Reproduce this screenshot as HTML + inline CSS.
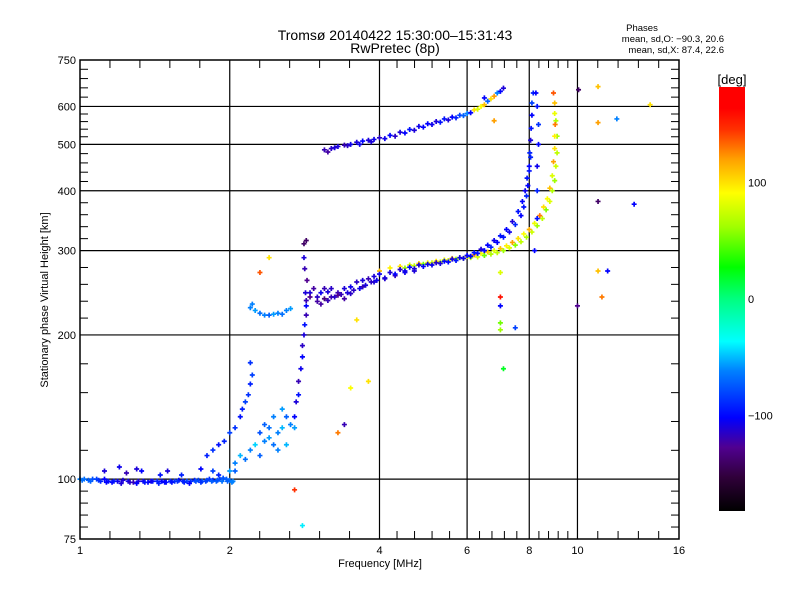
<!DOCTYPE html>
<html><head><meta charset="utf-8"><style>
body{margin:0;background:#fff;}
svg{display:block;font-family:"Liberation Sans",sans-serif;}
</style></head><body>
<svg id="chart" width="800" height="600" viewBox="0 0 800 600" xmlns="http://www.w3.org/2000/svg">
<defs>
<linearGradient id="cbar" x1="0" y1="1" x2="0" y2="0">
<stop offset="0" stop-color="#000000"/>
<stop offset="0.08" stop-color="#30003a"/>
<stop offset="0.15" stop-color="#500090"/>
<stop offset="0.22" stop-color="#0000ff"/>
<stop offset="0.33" stop-color="#0080ff"/>
<stop offset="0.40" stop-color="#00ffff"/>
<stop offset="0.50" stop-color="#00ff80"/>
<stop offset="0.575" stop-color="#00ff00"/>
<stop offset="0.67" stop-color="#a0ff00"/>
<stop offset="0.75" stop-color="#ffff00"/>
<stop offset="0.83" stop-color="#ffa000"/>
<stop offset="0.90" stop-color="#ff3000"/>
<stop offset="0.95" stop-color="#ff0000"/>
<stop offset="1" stop-color="#ff0000"/>
</linearGradient>
</defs>
<g id="grid"></g>
<g id="marks"></g>
<g id="axes"></g>
<text x="395" y="40" font-size="14" text-anchor="middle">Tromsø 20140422 15:30:00–15:31:43</text>
<text x="395" y="53" font-size="14" text-anchor="middle">RwPretec (8p)</text>
<text x="642" y="31" font-size="9.5" text-anchor="middle">Phases</text>
<text x="724" y="42" font-size="9.5" text-anchor="end">mean, sd,O: −90.3, 20.6</text>
<text x="724" y="53" font-size="9.5" text-anchor="end">mean, sd,X:  87.4, 22.6</text>
<text x="380" y="567" font-size="11" text-anchor="middle">Frequency [MHz]</text>
<text x="0" y="0" font-size="11" text-anchor="middle" transform="translate(48,300) rotate(-90)">Stationary phase Virtual Height [km]</text>
<rect x="719" y="87" width="26" height="424" fill="url(#cbar)"/>
<text x="732" y="84" font-size="13" text-anchor="middle">[deg]</text>
<g id="cbticks"></g>
</svg>
<script>
// ---- data ----
const eFreq=[1.00,1.02,1.04,1.06,1.08,1.10,1.12,1.14,1.16,1.19,1.22,1.25,1.28,1.31,1.34,1.37,1.40,1.43,1.46,1.49,1.52,1.55,1.58,1.61,1.64,1.67,1.70,1.73,1.76,1.79,1.82,1.85,1.88,1.91,1.94,1.97,2.00,2.03,1.12,1.2,1.24,1.3,1.33,1.45,1.5,1.6,1.75,1.85,1.9,2.05];
const eHeight=[100,100,99.5,100,100,99,100,99,98.5,99,99.5,99,98.5,99,99,98.5,99,99,99,98.5,99,99,99.5,99,99,99,99.5,99.5,99,99,100,99.5,99,100,100.5,100,99.5,99,104,106,103,105,104,102,104,102,105,104,102,104];
const ePhase=[-60,-65,-70,-75,-80,-90,-100,-95,-100,-105,-110,-105,-120,-110,-105,-100,-95,-90,-100,-95,-90,-85,-100,-90,-80,-85,-90,-80,-75,-80,-85,-90,-70,-80,-75,-70,-65,-60,-110,-105,-120,-110,-100,-95,-110,-90,-100,-80,-90,-70];
const e2Freq=[1.01,1.05,1.09,1.13,1.17,1.21,1.26,1.3,1.35,1.39,1.44,1.48,1.53,1.57,1.62,1.66,1.71,1.75,1.8,1.84,1.89,1.93,1.98,2.02];
const e2Height=[99.5,99,99.5,98.5,99,98,98.5,98,98.5,99,98,98.5,98.5,99,98.5,98,99,98.5,99.5,99,99.5,99,99,98.5];
const e2Phase=[-65,-70,-85,-100,-95,-110,-115,-100,-95,-105,-90,-100,-95,-85,-90,-100,-75,-85,-80,-70,-75,-65,-70,-60];

const lowFreq=[2.0,2.05,2.1,2.15,2.2,2.25,2.3,2.35,2.4,2.45,2.5,2.55,2.6,2.65,2.7,2.5,2.6,2.4,2.35,2.55,2.45,2.3,1.8,1.85,1.9,1.95,2.0,2.05,2.1,2.12,2.15,2.18,2.2,2.22,2.2,2.7,2.72,2.75,2.75,2.78,2.8,2.8,2.82,2.83,2.85,2.85,2.84,2.86,2.83,2.82,2.82,2.2,2.25,2.3,2.35,2.4,2.45,2.5,2.55,2.6,2.65,2.22];
const lowHeight=[104,108,112,110,115,118,112,120,122,118,125,128,135,130,128,115,118,128,130,140,135,125,112,115,118,120,125,128,135,140,145,150,158,165,175,135,145,150,160,170,180,190,200,210,220,230,245,260,275,290,310,228,225,222,220,220,221,222,221,225,227,232];
const lowPhase=[-55,-60,-50,-65,-60,-45,-70,-60,-55,-65,-60,-50,-70,-60,-55,-60,-50,-65,-70,-55,-60,-75,-90,-85,-95,-90,-80,-85,-95,-90,-80,-85,-90,-80,-85,-100,-110,-95,-120,-105,-100,-115,-110,-95,-120,-100,-110,-130,-120,-110,-140,-60,-55,-65,-60,-70,-55,-60,-65,-60,-55,-60];

const oFreq=[2.85,2.9,2.95,3.0,3.05,3.1,3.15,3.2,3.3,3.4,3.5,3.6,3.7,3.8,3.9,4.0,4.2,4.4,4.6,4.8,5.0,5.2,5.4,5.6,5.8,6.0,6.2,6.4,6.6,6.8,7.0,7.2,7.4,7.6,7.75,7.85,7.92,8.0,8.02,8.05,8.07,8.1,8.1,8.15,8.2,8.3,8.3,8.3,8.35,8.35,8.3,8.25,2.9,3.0,3.1,3.2,3.3,3.4,3.5,3.7,3.9,4.1,4.3,4.5,4.7];
const oHeight=[236,245,250,240,245,250,246,250,245,250,252,258,260,262,265,268,270,274,277,280,281,283,285,288,290,293,297,302,308,315,322,332,345,362,380,400,425,450,480,510,540,575,610,640,300,350,400,450,500,550,600,640,240,235,238,240,242,238,244,252,258,262,266,270,272];
const oPhase=[-120,-110,-125,-115,-105,-120,-110,-115,-120,-110,-105,-115,-110,-120,-110,-105,-110,-115,-100,-110,-105,-115,-100,-110,-105,-100,-95,-110,-100,-105,-95,-100,-110,-95,-100,-105,-95,-100,-90,-110,-95,-100,-80,-90,-100,-95,-90,-105,-100,-85,-95,-100,-130,-125,-135,-120,-130,-125,-115,-120,-110,-115,-120,-105,-110];
const o2Freq=[3.05,3.15,3.25,3.35,3.45,3.55,3.65,3.75,3.85,3.95,4.1,4.3,4.5,4.7,4.9,5.1,5.3,5.5,5.7,5.9,6.1,6.3,6.5,6.7,6.9,7.1,7.3,7.5,7.7,7.8,7.9,7.95,8.0,8.05];
const o2Height=[232,236,240,243,245,248,250,254,258,260,263,268,272,275,278,280,282,284,286,289,292,296,300,305,312,320,328,340,355,370,390,410,440,470];
const o2Phase=[-125,-120,-115,-120,-110,-115,-105,-110,-115,-105,-110,-100,-105,-110,-100,-105,-110,-100,-95,-105,-100,-95,-100,-90,-100,-95,-105,-90,-100,-95,-90,-100,-95,-90];

const xFreq=[4.0,4.2,4.4,4.6,4.8,5.0,5.2,5.4,5.6,5.8,6.0,6.2,6.4,6.6,6.8,7.0,7.2,7.4,7.6,7.8,8.0,8.2,8.4,8.55,8.7,8.8,8.9,8.95,9.0,9.0,9.02,9.0,9.0,8.95];
const xHeight=[272,276,278,280,282,283,285,287,289,290,292,294,296,298,300,303,307,312,318,325,332,342,355,370,385,405,430,460,490,520,550,580,610,640];
const xPhase=[110,95,100,80,105,90,100,85,110,95,100,120,90,105,80,110,95,120,100,90,115,85,130,100,90,110,80,120,100,95,130,85,110,140];
const x2Freq=[4.5,4.7,4.9,5.1,5.3,5.5,5.7,5.9,6.1,6.3,6.5,6.7,6.9,7.1,7.3,7.5,7.7,7.9,8.1,8.3,8.5,8.65,8.8,8.9,9.0,9.05,9.1,9.1,9.05];
const x2Height=[276,279,281,283,284,286,288,289,290,291,293,295,297,300,304,308,313,320,328,338,350,365,380,400,420,450,480,520,560];
const x2Phase=[60,70,50,75,65,80,55,70,60,75,50,65,70,60,80,55,70,65,75,60,70,55,80,65,60,75,70,60,65];

const f2Freq=[3.1,3.2,3.3,3.4,3.5,3.6,3.7,3.8,3.9,4.0,4.2,4.4,4.6,4.8,5.0,5.2,5.4,5.6,5.8,6.0,6.2,6.4,6.6,6.8,7.0,7.1];
const f2Height=[487,490,495,498,500,505,508,510,512,516,522,530,537,545,552,558,565,570,575,580,590,600,615,630,645,655];
const f2Phase=[-120,-115,-110,-120,-105,-110,-100,-110,-105,-115,-100,-110,-95,-105,-100,-110,-95,-100,-80,-60,100,90,-70,120,-100,-110];
const f2bFreq=[3.15,3.25,3.45,3.65,3.85,4.1,4.3,4.5,4.7,4.9,5.1,5.3,5.5,5.7,5.9,6.1,6.3,6.5,6.7,6.9];
const f2bHeight=[482,492,497,500,506,514,520,528,535,543,550,556,562,568,574,582,592,605,622,640];
const f2bPhase=[-125,-110,-115,-105,-110,-105,-115,-100,-110,-100,-105,-95,-110,-90,-70,-100,80,110,100,-60];

const sFreq=[10.05,11,11,12,14,13,11,11,11.5,11.2,10,7,7,7,7,7,7.5,7.1,3.6,3.5,3.8,3.4,3.3,2.7,2.8,2.3,2.4,2.85,6.8,6.5];
const sHeight=[650,660,555,565,605,375,380,272,272,240,230,270,240,230,212,205,207,170,215,155,160,130,125,95,80,270,290,315,560,625];
const sPhase=[-140,110,120,-60,100,-100,-140,110,-100,130,-130,80,160,-100,50,60,-80,20,100,90,100,-120,130,150,-40,140,100,-140,120,-100];

const xTickVals=[1,2,4,6,8,10,16];
const xTickLabels=["1","2","4","6","8","10","16"];
const yTickVals=[75,100,200,300,400,500,600,750];
const yTickLabels=["75","100","200","300","400","500","600","750"];
const cbVals=[100,0,-100];
const cbLabels=["100","0","−100"];

// ---- scales ----
const X0=80,X1=679,Y0=60,Y1=539;
function xs(f){return X0+(X1-X0)*Math.log(f)/Math.log(16);}
function ys(h){return Y1-(Y1-Y0)*Math.log10(h/75);}
function cbs(p){return 299-1.165*p;}
const NS='http://www.w3.org/2000/svg';
function mk(tag,attrs,parent){const e=document.createElementNS(NS,tag);for(const k in attrs)e.setAttribute(k,attrs[k]);parent.appendChild(e);return e;}
const stops=[[-180,[0,0,0]],[-150,[48,0,58]],[-130,[80,0,144]],[-100,[0,0,255]],[-60,[0,128,255]],[-37,[0,255,255]],[0,[0,255,128]],[27,[0,255,0]],[60,[160,255,0]],[91,[255,255,0]],[120,[255,160,0]],[150,[255,48,0]],[165,[255,0,0]],[180,[255,0,0]]];
function col(p){p=Math.max(-180,Math.min(180,p));for(let i=0;i<stops.length-1;i++){const a=stops[i],b=stops[i+1];if(p<=b[0]){const t=(p-a[0])/(b[0]-a[0]);const c=a[1].map((v,k)=>Math.round(v+(b[1][k]-v)*t));return 'rgb('+c.join(',')+')';}}return 'red';}

// ---- grid & axes ----
const grid=document.getElementById('grid'),axes=document.getElementById('axes');
const frame=mk('rect',{x:X0,y:Y0,width:X1-X0,height:Y1-Y0,fill:'none',stroke:'#000','stroke-width':1.5},axes);


xTickVals.forEach((v,i)=>{
  const x=xs(v);
  if(i>0&&i<xTickVals.length-1){const g=mk('line',{x1:x,x2:x,y1:Y0,y2:Y1,stroke:'#000','stroke-width':1.2},grid);
    
    }
  const t=mk('text',{x:x,y:Y1+15,'font-size':11,'text-anchor':'middle'},axes);t.textContent=xTickLabels[i];
  
  
  if(i<xTickVals.length-1){const x2=xs(xTickVals[i+1]);for(let k=1;k<5;k++){const xm=x+(x2-x)*k/5;
    mk('line',{x1:xm,x2:xm,y1:Y1,y2:Y1-8,stroke:'#000'},axes);mk('line',{x1:xm,x2:xm,y1:Y0,y2:Y0+8,stroke:'#000'},axes);}}
});
yTickVals.forEach((v,i)=>{
  const y=ys(v);
  if(i>0&&i<yTickVals.length-1){const g=mk('line',{x1:X0,x2:X1,y1:y,y2:y,stroke:'#000','stroke-width':1.2},grid);
    
    }
  const t=mk('text',{x:X0-4,y:y+4,'font-size':11,'text-anchor':'end'},axes);t.textContent=yTickLabels[i];
  
  
  if(i<yTickVals.length-1){const y2=ys(yTickVals[i+1]);for(let k=1;k<5;k++){const ym=y+(y2-y)*k/5;
    mk('line',{x1:X0,x2:X0+8,y1:ym,y2:ym,stroke:'#000'},axes);mk('line',{x1:X1,x2:X1-8,y1:ym,y2:ym,stroke:'#000'},axes);}}
});
const cbt=document.getElementById('cbticks');
cbVals.forEach((v,i)=>{const t=mk('text',{x:748,y:cbs(v)+4,'font-size':11},cbt);t.textContent=cbLabels[i];
  
  });

// ---- marks ----
const marks=document.getElementById('marks');
function plot(F,H,P,name){for(let i=0;i<F.length;i++){const x=xs(F[i]),y=ys(H[i]);
  const p=mk('path',{d:'M'+(x-2.5)+' '+y+'H'+(x+2.5)+'M'+x+' '+(y-2.5)+'V'+(y+2.5),stroke:col(P[i]),'stroke-width':1.7,fill:'none'},marks);
  
  }}
plot(eFreq,eHeight,ePhase,'e-layer-point');
plot(e2Freq,e2Height,e2Phase,'e-layer-point');
plot(lowFreq,lowHeight,lowPhase,'low-trace-point');
plot(x2Freq,x2Height,x2Phase,'x-trace-point');
plot(xFreq,xHeight,xPhase,'x-trace-point');
plot(oFreq,oHeight,oPhase,'o-trace-point');
plot(o2Freq,o2Height,o2Phase,'o-trace-point');
plot(f2Freq,f2Height,f2Phase,'f2-trace-point');
plot(f2bFreq,f2bHeight,f2bPhase,'f2-trace-point');
plot(sFreq,sHeight,sPhase,'scatter-point');
</script>
</body></html>
